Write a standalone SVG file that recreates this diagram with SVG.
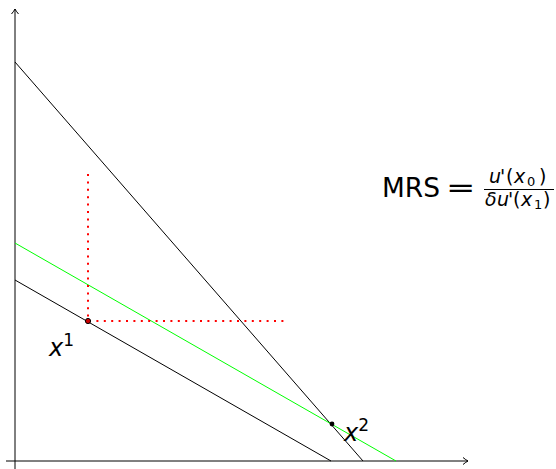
<svg xmlns="http://www.w3.org/2000/svg" width="556" height="469" viewBox="0 0 556 469">
<defs>
<marker id="arr" markerWidth="10" markerHeight="10" refX="7" refY="5" orient="auto" markerUnits="userSpaceOnUse">
<path d="M2,1.5 Q5,4 7,5 Q5,6 2,8.5" fill="none" stroke="#000" stroke-width="1"/>
</marker>
<style>
.ax{stroke:#000;stroke-width:1;fill:none}
.ln{stroke:#000;stroke-width:1;fill:none}
.gr{stroke:#00ff00;stroke-width:1;fill:none}
.rd{stroke:#ff0000;stroke-width:2;stroke-dasharray:2 5.4;fill:none}
.t{font-family:"DejaVu Sans","Liberation Sans",sans-serif;fill:#000}
.i{font-style:italic}
.f{font-size:19px}
.s{font-size:13px}
</style>
</defs>
<g id="connectors">
<line class="ax" x1="15" y1="469" x2="15" y2="9" marker-end="url(#arr)"/>
<line class="ax" x1="6" y1="461" x2="468" y2="461" marker-end="url(#arr)"/>
<line class="ln" x1="15" y1="62" x2="363" y2="461"/>
<line class="gr" x1="15" y1="243" x2="396" y2="461"/>
<line class="ln" x1="15" y1="280" x2="331" y2="461"/>
<line class="rd" x1="88" y1="174" x2="88" y2="321"/>
<line class="rd" x1="89" y1="321" x2="286" y2="321"/>
</g>
<g id="x1">
<circle cx="88" cy="321" r="2.6" fill="#cc0000" stroke="#000" stroke-width="1"/>
<text class="t" x="49" y="356" font-size="24"><tspan class="i">x</tspan><tspan font-size="17" dy="-10">1</tspan></text>
</g>
<g id="x2">
<circle cx="332" cy="424" r="2.4" fill="#000"/>
<text class="t" x="344" y="441" font-size="24"><tspan class="i">x</tspan><tspan font-size="17" dy="-10">2</tspan></text>
</g>
<g id="mrs">
<text class="t" x="382" y="197" font-size="27" textLength="58" lengthAdjust="spacingAndGlyphs">MRS</text>
<text class="t" x="0" y="197" font-size="27" transform="translate(446,0) scale(1.3,1)">=</text>
<text class="t f i" x="489" y="183">u</text>
<text class="t f" x="500" y="183">'</text>
<text class="t f" x="506" y="183">(</text>
<text class="t f i" x="514" y="183">x</text>
<text class="t s" x="527" y="186">0</text>
<text class="t f" x="539" y="183">)</text>
<line x1="484" y1="189.5" x2="554" y2="189.5" stroke="#000" stroke-width="1"/>
<text class="t f i" x="485" y="206">δ</text>
<text class="t f i" x="497" y="206">u</text>
<text class="t f" x="508" y="206">'</text>
<text class="t f" x="513" y="206">(</text>
<text class="t f i" x="521" y="206">x</text>
<text class="t s" x="534" y="209">1</text>
<text class="t f" x="543" y="206">)</text>
</g>
</svg>
